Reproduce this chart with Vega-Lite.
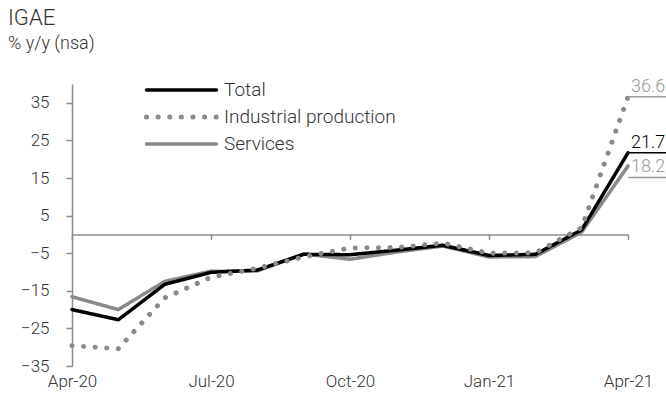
{
  "$schema": "https://vega.github.io/schema/vega-lite/v6.json",
  "width": 556,
  "height": 282,
  "autosize": "none",
  "padding": {"left": 72, "top": 84, "right": 38, "bottom": 40},
  "background": "white",
  "title": {
    "text": "IGAE",
    "subtitle": "% y/y (nsa)",
    "anchor": "start",
    "frame": "group",
    "dx": -64,
    "offset": 24,
    "font": "Roboto",
    "subtitleFont": "Roboto",
    "fontSize": 22,
    "subtitleFontSize": 18,
    "fontWeight": 300,
    "subtitleFontWeight": 300,
    "color": "#333333",
    "subtitleColor": "#333333",
    "subtitlePadding": 5
  },
  "data": {
    "values": [
      {"month": "Apr-20", "Total": -20.0, "Industrial production": -29.6, "Services": -16.6},
      {"month": "May-20", "Total": -22.7, "Industrial production": -30.4, "Services": -20.0},
      {"month": "Jun-20", "Total": -13.3, "Industrial production": -16.9, "Services": -12.5},
      {"month": "Jul-20", "Total": -10.1, "Industrial production": -11.4, "Services": -9.8},
      {"month": "Aug-20", "Total": -9.5, "Industrial production": -9.0, "Services": -9.7},
      {"month": "Sep-20", "Total": -5.3, "Industrial production": -6.0, "Services": -5.2},
      {"month": "Oct-20", "Total": -5.4, "Industrial production": -3.6, "Services": -6.6},
      {"month": "Nov-20", "Total": -4.2, "Industrial production": -3.5, "Services": -4.7},
      {"month": "Dec-20", "Total": -2.9, "Industrial production": -2.3, "Services": -3.1},
      {"month": "Jan-21", "Total": -5.6, "Industrial production": -5.0, "Services": -6.0},
      {"month": "Feb-21", "Total": -5.3, "Industrial production": -4.9, "Services": -5.9},
      {"month": "Mar-21", "Total": 1.2, "Industrial production": 1.8, "Services": 0.6},
      {"month": "Apr-21", "Total": 21.7, "Industrial production": 36.6, "Services": 18.2}
    ]
  },
  "transform": [
    {"fold": ["Services", "Total", "Industrial production"], "as": ["series", "value"]}
  ],
  "encoding": {
    "x": {
      "field": "month",
      "type": "ordinal",
      "sort": ["Apr-20", "May-20", "Jun-20", "Jul-20", "Aug-20", "Sep-20", "Oct-20", "Nov-20", "Dec-20", "Jan-21", "Feb-21", "Mar-21", "Apr-21"],
      "scale": {"type": "point", "padding": 0},
      "axis": {
        "values": ["Apr-20", "Jul-20", "Oct-20", "Jan-21", "Apr-21"],
        "offset": -131.6,
        "tickSize": 5,
        "labelPadding": 134,
        "labelAngle": 0,
        "title": null
      }
    },
    "y": {
      "field": "value",
      "type": "quantitative",
      "scale": {"domain": [-35, 40], "nice": false, "zero": false},
      "axis": {
        "values": [-35, -25, -15, -5, 5, 15, 25, 35],
        "tickSize": 6,
        "labelPadding": 17,
        "title": null
      }
    }
  },
  "layer": [
    {
      "mark": {"type": "line", "strokeCap": "round", "strokeJoin": "round"},
      "encoding": {
        "color": {
          "field": "series",
          "type": "nominal",
          "scale": {
            "domain": ["Total", "Industrial production", "Services"],
            "range": ["#000000", "#8a8a8a", "#8a8a8a"]
          },
          "legend": {
            "orient": "none",
            "legendX": 72,
            "legendY": -5,
            "title": null,
            "padding": 0,
            "symbolType": "stroke",
            "symbolSize": 4900,
            "clipHeight": 22,
            "labelOffset": 5,
            "rowPadding": 5,
            "labelLimit": 400,
            "labelFont": "Roboto",
            "labelFontWeight": 300,
            "labelFontSize": 19,
            "labelColor": "#333333",
            "encoding": {
              "symbols": {"strokeCap": {"value": "round"}}
            }
          }
        },
        "strokeDash": {
          "field": "series",
          "type": "nominal",
          "scale": {
            "domain": ["Total", "Industrial production", "Services"],
            "range": [[1, 0], [0.1, 11.5], [1, 0]]
          }
        },
        "strokeWidth": {
          "field": "series",
          "type": "nominal",
          "scale": {
            "type": "ordinal",
            "domain": ["Total", "Industrial production", "Services"],
            "range": [3.5, 5, 3.5]
          }
        }
      }
    },
    {
      "transform": [{"filter": "datum.month === 'Apr-21' && datum.series !== 'Services'"}],
      "mark": {"type": "rule", "x2Offset": 38, "strokeWidth": 1.5},
      "encoding": {
        "x2": {"field": "month"},
        "color": {"condition": {"test": "datum.series === 'Total'", "value": "#000000"}, "value": "#999999"}
      }
    },
    {
      "transform": [{"filter": "datum.month === 'Apr-21' && datum.series !== 'Services'"}],
      "mark": {
        "type": "text",
        "align": "left",
        "baseline": "bottom",
        "dx": 3,
        "dy": -1,
        "font": "Roboto",
        "fontWeight": 300,
        "fontSize": 18
      },
      "encoding": {
        "text": {"field": "value", "type": "quantitative", "format": ".1f"},
        "color": {"condition": {"test": "datum.series === 'Total'", "value": "#000000"}, "value": "#999999"}
      }
    },
    {
      "transform": [{"filter": "datum.month === 'Apr-21' && datum.series === 'Services'"}],
      "mark": {"type": "rule", "x2Offset": 38, "strokeWidth": 1.5, "yOffset": 11.5, "y2Offset": 11.5, "color": "#999999"},
      "encoding": {
        "x2": {"field": "month"}
      }
    },
    {
      "transform": [{"filter": "datum.month === 'Apr-21' && datum.series === 'Services'"}],
      "mark": {
        "type": "text",
        "align": "left",
        "baseline": "bottom",
        "dx": 3,
        "dy": 10.5,
        "font": "Roboto",
        "fontWeight": 300,
        "fontSize": 18,
        "color": "#999999"
      },
      "encoding": {
        "text": {"field": "value", "type": "quantitative", "format": ".1f"}
      }
    }
  ],
  "config": {
    "view": {"stroke": null},
    "axis": {
      "grid": false,
      "domainColor": "#8c8c8c",
      "domainWidth": 1.5,
      "tickColor": "#8c8c8c",
      "tickWidth": 1.5,
      "labelFont": "Roboto",
      "labelFontWeight": 300,
      "labelFontSize": 17,
      "labelColor": "#333333"
    }
  }
}
